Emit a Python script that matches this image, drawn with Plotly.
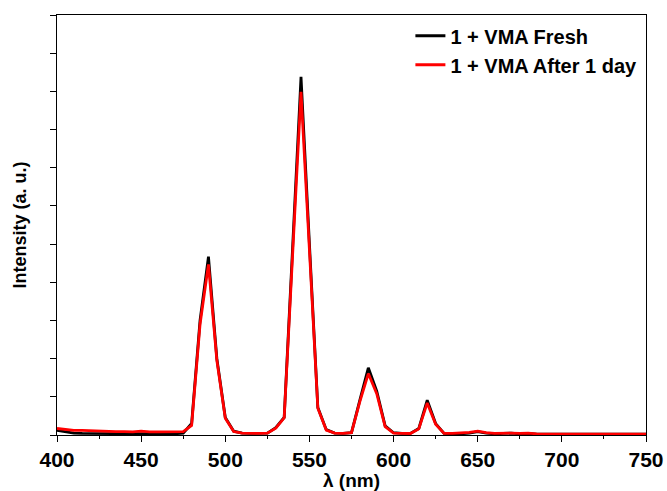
import plotly.graph_objects as go

# Emission spectra of 1 + VMA, sampled every 5 nm (arbitrary intensity units)
wavelength = list(range(400, 755, 5))

fresh = [
    12, 8, 5, 4, 4, 3, 3, 3, 3, 3,          # 400-445
    4, 3, 3, 3, 3, 5, 30, 300, 467, 200,    # 450-495
    46, 10, 5, 4, 4, 5, 19, 46, 490, 938,   # 500-545
    500, 72, 14, 5, 4, 6, 92, 176, 115, 24, # 550-595
    6, 4, 4, 17, 91, 30, 4, 3, 3, 5,        # 600-645
    9, 5, 3, 4, 5, 3, 4, 2, 2, 2,           # 650-695
    2, 2, 2, 2, 2, 2, 2, 2, 2, 2,           # 700-745
    2,                                      # 750
]

after_1_day = [
    17, 15, 12, 12, 11, 10, 10, 9, 9, 8,    # 400-445
    10, 8, 8, 8, 8, 9, 25, 290, 447, 195,   # 450-495
    44, 9, 5, 4, 4, 5, 18, 45, 475, 899,    # 500-545
    485, 70, 13, 5, 4, 6, 88, 161, 108, 22, # 550-595
    5, 4, 4, 16, 84, 28, 4, 4, 5, 7,        # 600-645
    10, 6, 4, 5, 5, 4, 5, 3, 2, 2,          # 650-695
    2, 2, 2, 2, 2, 2, 2, 2, 2, 2,           # 700-745
    2,                                      # 750
]

series_names = ["1 + VMA Fresh", "1 + VMA After 1 day"]
series_colors = ["#000000", "#ff0000"]

x_ticks = [400, 450, 500, 550, 600, 650, 700, 750]

FONT = "Liberation Sans, Arial, sans-serif"

fig = go.Figure()
for name, values, color in zip(series_names, [fresh, after_1_day], series_colors):
    fig.add_trace(go.Scatter(
        x=wavelength, y=values, mode="lines", name=name,
        line=dict(color=color, width=2.8),
    ))

axis_common = dict(
    showline=True, linecolor="#000000", linewidth=1.2, mirror=True,
    showgrid=False, zeroline=False, automargin=False,
    ticks="outside", tickcolor="#000000", tickwidth=1.2, ticklen=6,
)

fig.update_xaxes(
    **axis_common,
    range=[400, 750], tickvals=x_ticks,
    ticktext=[str(t) for t in x_ticks],
    tickfont=dict(family=FONT, size=21, color="#000000", weight="bold"),
    minor=dict(dtick=25, ticks="outside", ticklen=3, tickcolor="#000000", tickwidth=1.2),
    title=dict(text="λ (nm)", standoff=1,
               font=dict(family=FONT, size=19, color="#000000", weight="bold")),
)

fig.update_yaxes(
    **axis_common,
    range=[0, 1100], dtick=100, showticklabels=False,
    title=dict(text="Intensity (a. u.)", standoff=18,
               font=dict(family=FONT, size=18, color="#000000", weight="bold")),
)

fig.update_layout(
    width=667, height=491,
    margin=dict(l=57, r=21, t=15, b=56),
    paper_bgcolor="#ffffff", plot_bgcolor="#ffffff",
    legend=dict(
        x=0.6, y=0.997, xanchor="left", yanchor="top",
        bgcolor="rgba(0,0,0,0)", borderwidth=0,
        font=dict(family=FONT, size=20, color="#000000", weight="bold"),
        tracegroupgap=0,
    ),
)

fig.write_html("out.html")
